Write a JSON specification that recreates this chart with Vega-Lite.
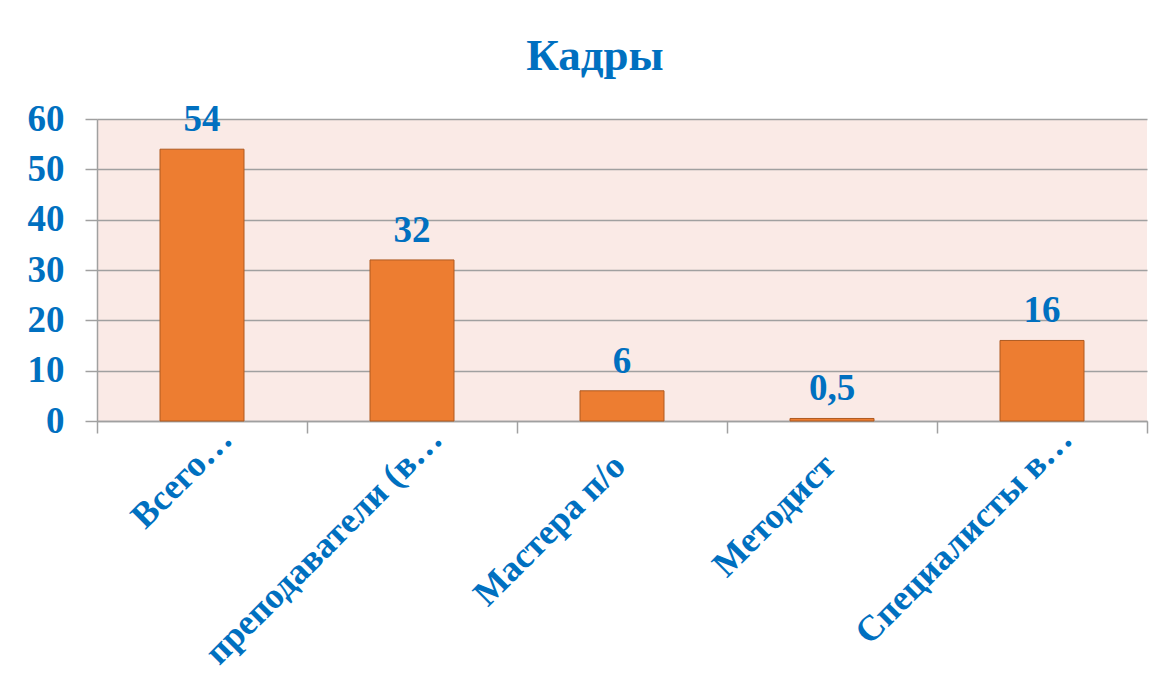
{
  "$schema": "https://vega.github.io/schema/vega-lite/v6.json",
  "autosize": "none",
  "width": 1050,
  "height": 302,
  "padding": {"left": 97, "top": 119, "right": 18, "bottom": 269},
  "background": "#FFFFFF",
  "config": {
    "locale": {"number": {"decimal": ",", "thousands": " ", "grouping": [3], "currency": ["", ""]}},
    "view": {"fill": "#FAEAE6", "stroke": null},
    "font": "Liberation Serif"
  },
  "title": {
    "text": "Кадры",
    "font": "Liberation Serif",
    "fontSize": 45,
    "fontWeight": "bold",
    "color": "#0070C0",
    "anchor": "middle",
    "dx": -27,
    "offset": 21
  },
  "data": {
    "values": [
      {"category": "Всего…", "value": 54},
      {"category": "преподаватели (в…", "value": 32},
      {"category": "Мастера п/о", "value": 6},
      {"category": "Методист", "value": 0.5},
      {"category": "Специалисты в…", "value": 16}
    ]
  },
  "encoding": {
    "x": {
      "field": "category",
      "type": "nominal",
      "sort": null,
      "scale": {"paddingInner": 0, "paddingOuter": 0},
      "axis": {
        "title": null,
        "tickBand": "extent",
        "labelAngle": -45,
        "labelAlign": "right",
        "labelBaseline": "middle",
        "labelFont": "Liberation Serif",
        "labelFontSize": 36,
        "labelFontWeight": "bold",
        "labelColor": "#0070C0",
        "labelPadding": {"condition": {"test": "indexof(datum.label, '…') < 0", "value": 27}, "value": 0},
        "labelOffset": {"condition": {"test": "indexof(datum.label, '…') < 0", "value": -3}, "value": 24},
        "labelLimit": 0,
        "domainColor": "#A0A0A0",
        "domainWidth": 1.5,
        "tickColor": "#A0A0A0",
        "tickWidth": 1.5,
        "tickSize": 12,
        "grid": false
      }
    },
    "y": {
      "field": "value",
      "type": "quantitative",
      "scale": {"domain": [0, 60], "nice": false},
      "axis": {
        "title": null,
        "values": [0, 10, 20, 30, 40, 50, 60],
        "labelFont": "Liberation Serif",
        "labelFontSize": 37,
        "labelFontWeight": "bold",
        "labelColor": "#0070C0",
        "labelPadding": 21,
        "domainColor": "#A0A0A0",
        "domainWidth": 1.5,
        "tickColor": "#A0A0A0",
        "tickWidth": 1.5,
        "tickSize": 12,
        "grid": true,
        "gridColor": "#A0A0A0",
        "gridWidth": 1.5
      }
    }
  },
  "layer": [
    {
      "mark": {"type": "bar", "width": {"band": 0.4}, "color": "#ED7D31", "stroke": "#AE5A21", "strokeWidth": 1}
    },
    {
      "mark": {"type": "text", "dy": -18, "baseline": "alphabetic", "font": "Liberation Serif", "fontSize": 37, "fontWeight": "bold", "color": "#0070C0"},
      "encoding": {"text": {"field": "value", "type": "quantitative", "format": "~g"}}
    }
  ]
}
